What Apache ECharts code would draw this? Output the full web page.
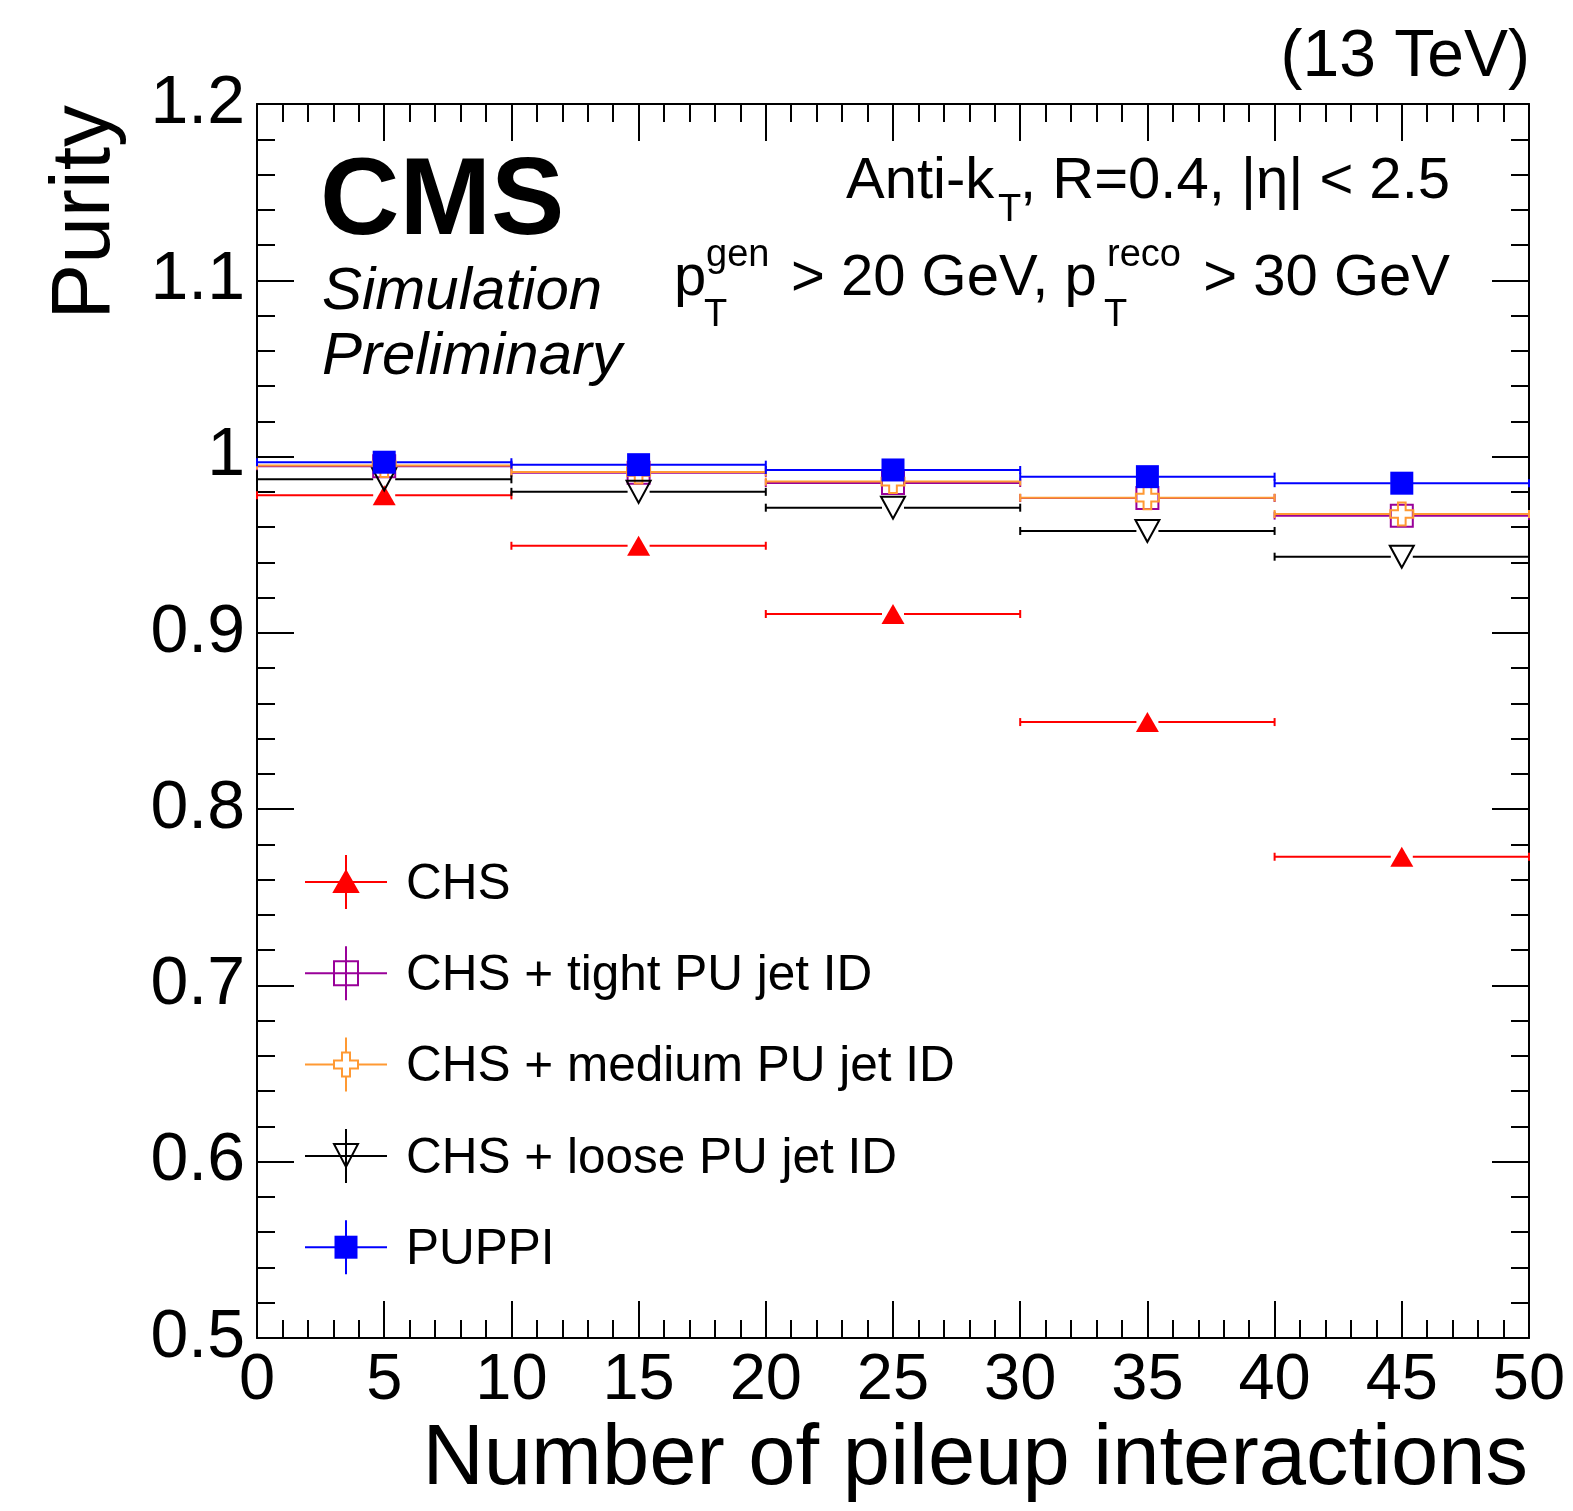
<!DOCTYPE html>
<html>
<head>
<meta charset="utf-8">
<title>Purity vs number of pileup interactions</title>
<script src="https://cdn.jsdelivr.net/npm/echarts@6/dist/echarts.min.js"></script>
<style>
html, body { margin: 0; padding: 0; background: #fff; }
#main { width: 1573px; height: 1511px; }
</style>
</head>
<body>
<div id="main"></div>
<script>
// bins in number of pileup interactions
var binLow = [0, 10, 20, 30, 40];
var binHigh = [10, 20, 30, 40, 50];
var binCenter = [5, 15, 25, 35, 45];

// purity per bin
var chs = [0.978, 0.9494, 0.9107, 0.8494, 0.773];
var chsTight = [0.9945, 0.9908, 0.9850, 0.9765, 0.9665];
var chsMedium = [0.9950, 0.9913, 0.9858, 0.9767, 0.9674];
var chsLoose = [0.9871, 0.9800, 0.9710, 0.9578, 0.9432];
var puppi = [0.9968, 0.9954, 0.9924, 0.9886, 0.9849];

var legendNames = ['CHS', 'CHS + tight PU jet ID', 'CHS + medium PU jet ID', 'CHS + loose PU jet ID', 'PUPPI'];

var FONT = '"Liberation Sans", Arial, Helvetica, sans-serif';
var CROSS = 'path://M8,0 L16,0 L16,8 L24,8 L24,16 L16,16 L16,24 L8,24 L8,16 L0,16 L0,8 L8,8 Z';
var CLEAR = 'rgba(0,0,0,0)';

var sets = [
	{ name: legendNames[0], values: chs, color: '#ff0000', symbol: 'triangle', size: [23, 20], rotate: 0, filled: true },
	{ name: legendNames[1], values: chsTight, color: '#990099', symbol: 'rect', size: 22, rotate: 0, filled: false },
	{ name: legendNames[2], values: chsMedium, color: '#ff9933', symbol: CROSS, size: 23, rotate: 0, filled: false },
	{ name: legendNames[3], values: chsLoose, color: '#000000', symbol: 'triangle', size: [24, 22], rotate: 180, filled: false },
	{ name: legendNames[4], values: puppi, color: '#0000ff', symbol: 'rect', size: 23, rotate: 0, filled: true }
];

// horizontal bin-width bars with end caps, broken around the marker like ROOT does
function barRenderer(color) {
	return function (params, api) {
		var y = api.value(2);
		var a = api.coord([api.value(0), y]);
		var b = api.coord([api.value(1), y]);
		var c = api.coord([api.value(3), y]);
		var gap = 11, cap = 4;
		var st = { stroke: color, lineWidth: 2 };
		return {
			type: 'group',
			children: [
				{ type: 'line', shape: { x1: a[0], y1: a[1], x2: c[0] - gap, y2: a[1] }, style: st },
				{ type: 'line', shape: { x1: c[0] + gap, y1: b[1], x2: b[0], y2: b[1] }, style: st },
				{ type: 'line', shape: { x1: a[0], y1: a[1] - cap, x2: a[0], y2: a[1] + cap }, style: st },
				{ type: 'line', shape: { x1: b[0], y1: b[1] - cap, x2: b[0], y2: b[1] + cap }, style: st }
			]
		};
	};
}

var series = [];
sets.forEach(function (s) {
	var bars = [], pts = [];
	for (var i = 0; i < binCenter.length; i++) {
		bars.push([binLow[i], binHigh[i], s.values[i], binCenter[i]]);
		pts.push([binCenter[i], s.values[i]]);
	}
	series.push({
		type: 'custom',
		name: s.name + ' bars',
		renderItem: barRenderer(s.color),
		encode: { x: [0, 1], y: 2 },
		data: bars,
		silent: true
	});
	series.push({
		type: 'scatter',
		name: s.name,
		data: pts,
		symbol: s.symbol,
		symbolSize: s.size,
		symbolRotate: s.rotate,
		symbolKeepAspect: true,
		itemStyle: {
			color: s.filled ? s.color : CLEAR,
			borderColor: s.color,
			borderWidth: s.filled ? 0 : 2,
			opacity: 1
		},
		emphasis: { disabled: true },
		silent: true
	});
});

// legend drawn by hand (line + error bar + marker, like a ROOT TLegend "lep")
function legendMarker(s, cx, cy) {
	var fill = s.filled ? s.color : CLEAR;
	var st = { fill: fill, stroke: s.color, lineWidth: 2 };
	if (s.symbol === 'triangle' && s.rotate === 0) {
		return { type: 'polygon', shape: { points: [[cx, cy - 11], [cx + 12, cy + 10], [cx - 12, cy + 10]] }, style: st };
	}
	if (s.symbol === 'triangle') {
		return { type: 'polygon', shape: { points: [[cx - 12, cy - 12], [cx + 12, cy - 12], [cx, cy + 11]] }, style: st };
	}
	if (s.symbol === 'rect') {
		var h = s.filled ? 11.5 : 12;
		return { type: 'rect', shape: { x: cx - h, y: cy - h, width: 2 * h, height: 2 * h }, style: s.filled ? { fill: s.color } : st };
	}
	var H = 12, A = 4;
	return {
		type: 'polygon',
		shape: { points: [[cx - A, cy - H], [cx + A, cy - H], [cx + A, cy - A], [cx + H, cy - A], [cx + H, cy + A], [cx + A, cy + A],
			[cx + A, cy + H], [cx - A, cy + H], [cx - A, cy + A], [cx - H, cy + A], [cx - H, cy - A], [cx - A, cy - A]] },
		style: { fill: '#ffffff', stroke: s.color, lineWidth: 2 }
	};
}

var legendItems = [];
sets.forEach(function (s, i) {
	var cy = 882 + i * 91.3;
	var st = { stroke: s.color, lineWidth: 2 };
	legendItems.push({ type: 'line', shape: { x1: 305, y1: cy, x2: 387, y2: cy }, style: st });
	legendItems.push({ type: 'line', shape: { x1: 346, y1: cy - 27, x2: 346, y2: cy + 27 }, style: st });
	legendItems.push(legendMarker(s, 346, cy));
	legendItems.push({
		type: 'text', x: 406, y: cy + 3,
		style: { text: s.name, font: '49.5px ' + FONT, fill: '#000', textAlign: 'left', textVerticalAlign: 'middle' }
	});
});

function txt(x, y, text, font, align, extra) {
	var o = {
		type: 'text', x: x, y: y,
		style: { text: text, font: font, fill: '#000', textAlign: align, textVerticalAlign: 'middle' }
	};
	if (extra) { for (var k in extra) o[k] = extra[k]; }
	return o;
}

var main58 = '58px ' + FONT;
var small38 = '38px ' + FONT;

var graphics = [
	txt(1530, 58, '(13 TeV)', '66px ' + FONT, 'right'),
	txt(320, 204, 'CMS', 'bold 110px ' + FONT, 'left'),
	txt(322, 292, 'Simulation', 'italic 60px ' + FONT, 'left'),
	txt(322, 357, 'Preliminary', 'italic 60px ' + FONT, 'left'),
	// Anti-kT, R=0.4, |eta| < 2.5
	txt(846, 182, 'Anti-k', main58, 'left'),
	txt(998, 211, 'T', small38, 'left'),
	txt(1450, 182, ', R=0.4, |η| < 2.5', main58, 'right'),
	// pT^gen > 20 GeV, pT^reco > 30 GeV
	txt(674, 279, 'p', main58, 'left'),
	txt(704, 316, 'T', small38, 'left'),
	txt(706, 256, 'gen', small38, 'left'),
	txt(791, 279, '> 20 GeV, p', main58, 'left'),
	txt(1104, 316, 'T', small38, 'left'),
	txt(1107, 256, 'reco', small38, 'left'),
	txt(1450, 279, '> 30 GeV', main58, 'right'),
	// axis titles
	txt(1528, 1461, 'Number of pileup interactions', '85px ' + FONT, 'right'),
	txt(86, 105, 'Purity', '84px ' + FONT, 'right', { rotation: Math.PI / 2 })
].concat(legendItems);

function fmtY(v) {
	return String(parseFloat(v.toFixed(2)));
}

var tickStyle = { show: true, inside: true, length: 37, lineStyle: { color: '#000', width: 2 } };
var minorStyle = { show: true, splitNumber: 5, length: 18, lineStyle: { color: '#000', width: 2 } };
var lineStyle = { show: true, onZero: false, lineStyle: { color: '#000', width: 2 } };

var myChart = echarts.init(document.getElementById('main'), null, { renderer: 'canvas' });
var option = {
	backgroundColor: '#ffffff',
	animation: false,
	grid: { left: 257, right: 44, top: 104, bottom: 173, containLabel: false },
	xAxis: [{
		type: 'value', min: 0, max: 50, interval: 5, position: 'bottom',
		axisLine: lineStyle, axisTick: tickStyle, minorTick: minorStyle,
		splitLine: { show: false },
		axisLabel: { show: true, margin: 11, fontSize: 65, lineHeight: 65, fontFamily: FONT, color: '#000',
			showMinLabel: true, showMaxLabel: true }
	}, {
		type: 'value', min: 0, max: 50, interval: 5, position: 'top',
		axisLine: lineStyle, axisTick: tickStyle, minorTick: minorStyle,
		splitLine: { show: false }, axisLabel: { show: false }
	}],
	yAxis: [{
		type: 'value', min: 0.5, max: 1.2, interval: 0.1, position: 'left',
		axisLine: lineStyle, axisTick: tickStyle, minorTick: minorStyle,
		splitLine: { show: false },
		axisLabel: { show: true, margin: 12, fontSize: 68, fontFamily: FONT, color: '#000', formatter: fmtY,
			showMinLabel: true, showMaxLabel: true }
	}, {
		type: 'value', min: 0.5, max: 1.2, interval: 0.1, position: 'right',
		axisLine: lineStyle, axisTick: tickStyle, minorTick: minorStyle,
		splitLine: { show: false }, axisLabel: { show: false }
	}],
	series: series,
	graphic: graphics
};
myChart.setOption(option);
</script>
</body>
</html>
